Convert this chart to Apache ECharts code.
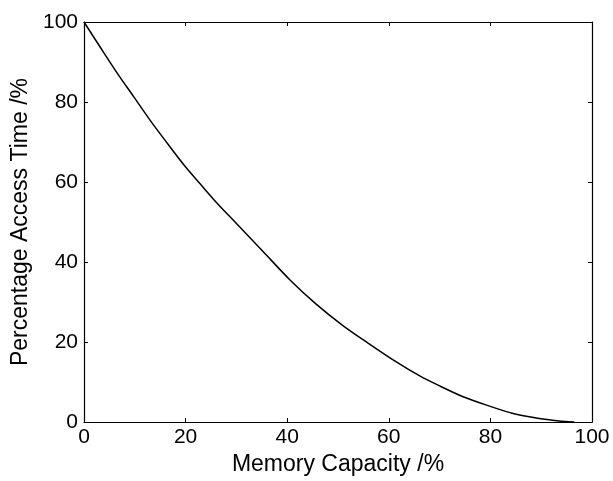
<!DOCTYPE html>
<html>
<head>
<meta charset="utf-8">
<script src="https://cdn.jsdelivr.net/npm/echarts@6/dist/echarts.min.js"></script>
<style>
html, body { margin: 0; padding: 0; background: #fff; }
#main { width: 613px; height: 481px; }
</style>
</head>
<body>
<div id="main"></div>
<script>
// memory capacity (%) vs percentage access time (%)
var capacity = [0, 3.3, 6.5, 9.8, 13.1, 16.4, 19.6, 22.9, 26.2, 29.5, 35.2, 40.5, 45.7, 50.9, 56.2, 61.4, 66.0, 69.9, 74.5, 79.1, 84.3, 89.6, 93.5, 96.5];
var accessTime = [100, 93.5, 87.3, 81.3, 75.3, 69.7, 64.4, 59.5, 54.7, 50.3, 42.7, 35.6, 29.5, 24.2, 19.5, 15.1, 11.6, 9.1, 6.4, 4.3, 2.2, 0.9, 0.3, 0];
var xTicks = [0, 20, 40, 60, 80, 100];
var yTicks = [0, 20, 40, 60, 80, 100];

var pts = [];
for (var i = 0; i < capacity.length; i++) {
	pts.push([capacity[i], accessTime[i]]);
}

var font = 'Liberation Sans, Arial, Helvetica, sans-serif';
var lineCol = '#000';

var myChart = echarts.init(document.getElementById('main'), null, { renderer: 'canvas' });

var option = {
	animation: false,
	backgroundColor: '#fff',
	grid: {
		left: 84,
		right: 21,
		top: 22,
		bottom: 58
	},
	xAxis: [{
		type: 'value',
		min: xTicks[0],
		max: xTicks[xTicks.length - 1],
		interval: 20,
		name: 'Memory Capacity /%',
		nameLocation: 'middle',
		nameGap: 27,
		nameTextStyle: { color: '#000', fontFamily: font, fontSize: 23 },
		axisLine: { onZero: false, lineStyle: { color: lineCol, width: 1.2 } },
		axisTick: { inside: true, length: 4, lineStyle: { color: lineCol } },
		axisLabel: { color: '#000', fontFamily: font, fontSize: 21, margin: 5 },
		splitLine: { show: false }
	}, {
		type: 'value',
		position: 'top',
		min: xTicks[0],
		max: xTicks[xTicks.length - 1],
		interval: 20,
		axisLine: { onZero: false, lineStyle: { color: lineCol, width: 1.2 } },
		axisTick: { inside: true, length: 4, lineStyle: { color: lineCol } },
		axisLabel: { show: false },
		splitLine: { show: false }
	}],
	yAxis: [{
		type: 'value',
		min: yTicks[0],
		max: yTicks[yTicks.length - 1],
		interval: 20,
		name: 'Percentage Access Time /%',
		nameLocation: 'middle',
		nameGap: 52,
		nameTextStyle: { color: '#000', fontFamily: font, fontSize: 23 },
		axisLine: { show: true, onZero: false, lineStyle: { color: lineCol, width: 1.2 } },
		axisTick: { show: true, inside: true, length: 4, lineStyle: { color: lineCol } },
		axisLabel: { color: '#000', fontFamily: font, fontSize: 21, margin: 6, padding: [0, 0, 8, 0] },
		splitLine: { show: false }
	}, {
		type: 'value',
		position: 'right',
		min: yTicks[0],
		max: yTicks[yTicks.length - 1],
		interval: 20,
		axisLine: { show: true, onZero: false, lineStyle: { color: lineCol, width: 1.2 } },
		axisTick: { show: true, inside: true, length: 4, lineStyle: { color: lineCol } },
		axisLabel: { show: false },
		splitLine: { show: false }
	}],
	series: [{
		type: 'line',
		data: pts,
		smooth: 0.3,
		showSymbol: false,
		lineStyle: { color: '#000', width: 1.5 }
	}]
};

myChart.setOption(option);
</script>
</body>
</html>
